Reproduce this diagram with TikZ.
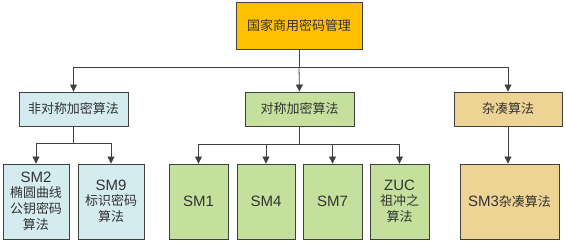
\documentclass[tikz,border=0pt]{standalone}
\usepackage{fontspec}
\setmainfont{Liberation Sans}
\newfontfamily\cjk{Noto Sans CJK SC}
\usetikzlibrary{arrows.meta,positioning,calc}
\definecolor{topc}{HTML}{FFC000}
\definecolor{bluec}{HTML}{D4EBF0}
\definecolor{greenc}{HTML}{C4E09C}
\definecolor{tanc}{HTML}{EDD394}
\definecolor{linec}{HTML}{404040}
\definecolor{txtc}{HTML}{333333}
\tikzset{
  boxbase/.style={draw=linec, line width=0.9pt, rectangle, inner sep=0pt, align=center, text=txtc},
  topbox/.style={boxbase, fill=topc, minimum width=126pt, minimum height=47pt, font=\cjk\fontsize{13}{16}\selectfont},
  midbox/.style={boxbase, minimum width=109pt, minimum height=34pt, font=\cjk\fontsize{13}{16}\selectfont},
  leafbox/.style={boxbase, minimum height=75pt, font=\fontsize{15}{16}\selectfont},
  arr/.style={draw=linec, line width=0.8pt, -{Triangle[width=7pt,length=7pt]}},
  ln/.style={draw=linec, line width=0.8pt}
}
\newcommand{\cj}[1]{{\cjk\fontsize{13}{16}\selectfont #1}}
\begin{document}
\begin{tikzpicture}[x=1pt,y=-1pt]
\useasboundingbox (0,0) rectangle (566,243);
\node[topbox] (top) at (299,25.5) {国家商用密码管理};
\node[midbox, fill=bluec] (A) at (73.5,109) {非对称加密算法};
\node[midbox, fill=greenc] (B) at (299.5,109) {对称加密算法};
\node[midbox, fill=tanc, minimum width=108pt] (C) at (508,109) {杂凑算法};

\node[leafbox, fill=bluec, minimum width=66pt] (sm2) at (36,201.5) {SM2\\[-1pt]\cj{椭圆曲线}\\\cj{公钥密码}\\\cj{算法}};
\node[leafbox, fill=bluec, minimum width=66pt] (sm9) at (111,201.5) {SM9\\[-1pt]\cj{标识密码}\\\cj{算法}};
\node[leafbox, fill=greenc, minimum width=59pt] (sm1) at (198.5,201.5) {SM1};
\node[leafbox, fill=greenc, minimum width=58pt] (sm4) at (266,201.5) {SM4};
\node[leafbox, fill=greenc, minimum width=59pt] (sm7) at (332.5,201.5) {SM7};
\node[leafbox, fill=greenc, minimum width=59pt] (zuc) at (399.5,201.5) {ZUC\\[-1pt]\cj{祖冲之}\\\cj{算法}};
\node[leafbox, fill=tanc, minimum width=99pt] (sm3) at (509.5,201.5) {SM3\cj{杂凑算法}};

\coordinate (tj) at ($(top.south)+(0,18)$);
\draw[arr] (top.south) -- (tj) -| (A.north);
\draw[arr] (tj) -| (C.north);
\draw[arr] (tj) -- (B.north);

\draw[arr] (A.south) -- ++(0,17) -| (sm2.north);
\draw[arr] (A.south) -- ++(0,17) -| (sm9.north);

\coordinate (bj) at ($(B.south)+(-1.5,18)$);
\draw[ln] (B.south) -- ++(0,18);
\draw[arr] (bj) -| (sm1.north);
\draw[arr] (bj) -| (sm4.north);
\draw[arr] (bj) -| (sm7.north);
\draw[arr] (bj) -| (zuc.north);

\draw[arr] (C.south) -- (C.south |- sm3.north);
\end{tikzpicture}
\end{document}
